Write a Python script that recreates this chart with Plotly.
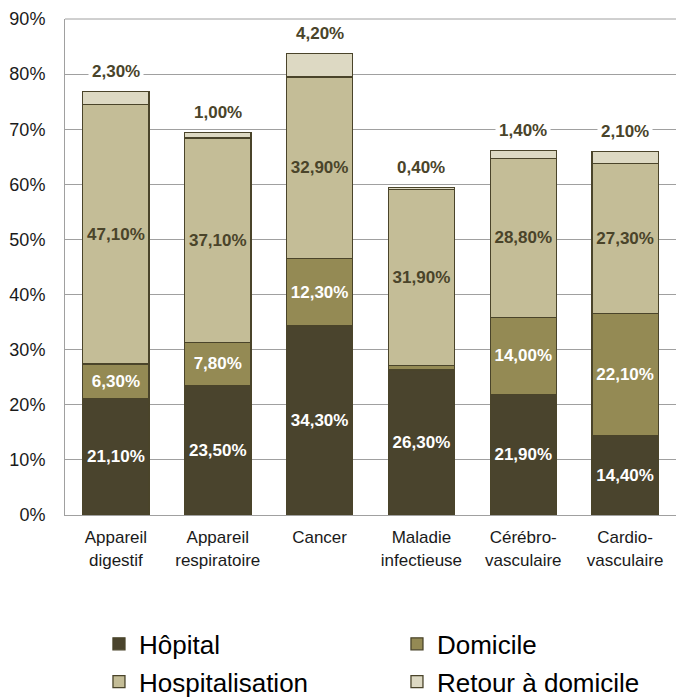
import plotly.graph_objects as go

categories = ["Appareil<br>digestif", "Appareil<br>respiratoire", "Cancer",
              "Maladie<br>infectieuse", "Cérébro-<br>vasculaire", "Cardio-<br>vasculaire"]
hopital = [21.1, 23.5, 34.3, 26.3, 21.9, 14.4]
domicile = [6.3, 7.8, 12.3, 0.8, 14.0, 22.1]
hospitalisation = [47.1, 37.1, 32.9, 31.9, 28.8, 27.3]
retour = [2.3, 1.0, 4.2, 0.4, 1.4, 2.1]
show_domicile_label = [True, True, True, False, True, True]

series_names = ["Hôpital", "Domicile", "Hospitalisation", "Retour à domicile"]
colors = ["#4a442d", "#948a54", "#c4bd97", "#ddd9c3"]
text_colors = ["white", "white", "#4a442a", "#4a442a"]
outline = "#4a442a"
font = "Liberation Sans, Arial, sans-serif"


def fmt(v):
    return f"{v:.2f}".replace(".", ",") + "%"


fig = go.Figure()
all_series = [hopital, domicile, hospitalisation, retour]
legends = ["legend", "legend", "legend2", "legend2"]
for i, (name, vals) in enumerate(zip(series_names, all_series)):
    if i == 3:
        texts = None
    elif i == 1:
        texts = [fmt(v) if s else "" for v, s in zip(vals, show_domicile_label)]
    else:
        texts = [fmt(v) for v in vals]
    fig.add_trace(go.Bar(
        name=name, x=categories, y=vals,
        marker=dict(color=colors[i], line=dict(color=outline, width=1.3)),
        text=texts, textposition="inside" if texts else "none",
        insidetextanchor="middle", textangle=0,
        textfont=dict(family=font, size=17, color=text_colors[i], weight="bold"),
        constraintext="none",
        legend=legends[i],
        hoverinfo="skip",
    ))

totals = [a + b + c + d for a, b, c, d in zip(hopital, domicile, hospitalisation, retour)]
for cat, tot, r in zip(categories, totals, retour):
    fig.add_annotation(x=cat, y=tot, text=fmt(r), showarrow=False, yshift=20,
                       font=dict(family=font, size=17, color="#4a442a", weight="bold"),
                       bgcolor="white", borderpad=3)

leg_common = dict(orientation="h", x=0.0556, xanchor="left", yanchor="middle",
                  entrywidth=253, entrywidthmode="pixels", traceorder="normal",
                  font=dict(size=26, color="#000000", family=font), itemwidth=30,
                  bgcolor="rgba(0,0,0,0)", borderwidth=0)

fig.update_layout(
    width=676, height=699,
    margin=dict(l=65, r=0, t=19, b=184, autoexpand=False),
    barmode="stack", bargap=0.35,
    plot_bgcolor="white", paper_bgcolor="white",
    font=dict(family=font, color="#1a1a1a"),
    legend=dict(y=-0.260, **leg_common),
    legend2=dict(y=-0.336, **leg_common),
    showlegend=True,
)
fig.update_yaxes(range=[0, 90], dtick=10, ticksuffix="%", showgrid=True,
                 gridcolor="#a0a0a0", gridwidth=1, showline=True, linecolor="#a0a0a0",
                 linewidth=1, mirror=False, ticks="", ticklabelstandoff=15,
                 tickfont=dict(size=18, color="#1a1a1a", family=font), zeroline=False)
fig.update_xaxes(showline=True, linecolor="#a0a0a0", linewidth=1, ticks="",
                 tickfont=dict(size=17, color="#1a1a1a", family=font), ticklabelstandoff=7)
fig.add_shape(type="line", xref="paper", yref="paper", x0=0, x1=1, y0=1, y1=1,
              line=dict(color="#a0a0a0", width=1))

fig.write_html("out.html", config={"displayModeBar": False},
               post_script="document.body.style.margin='0';")
